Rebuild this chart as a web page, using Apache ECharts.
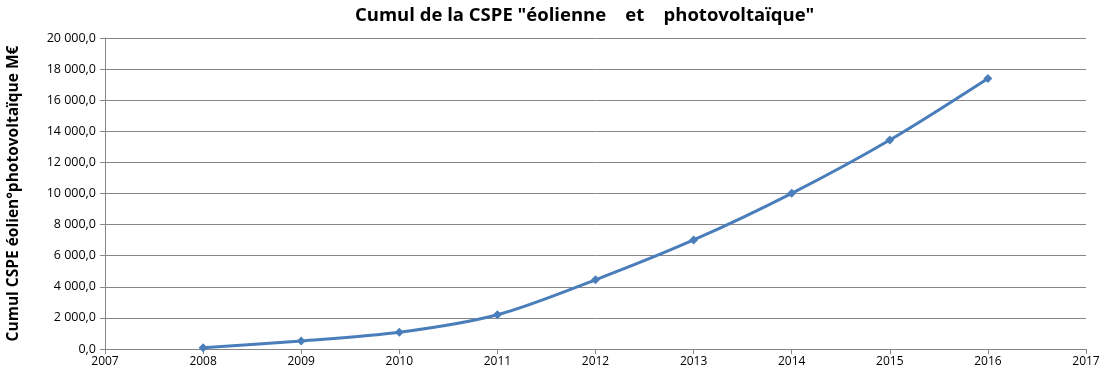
<!DOCTYPE html>
<html>
<head>
<meta charset="utf-8">
<script src="https://cdn.jsdelivr.net/npm/echarts@6/dist/echarts.min.js"></script>
<style>
	html, body { margin: 0; padding: 0; background: #fff; }
	#chart { width: 1106px; height: 378px; }
</style>
</head>
<body>
<div id="chart"></div>
<script>
// valeurs (M€)
var years = [2008, 2009, 2010, 2011, 2012, 2013, 2014, 2015, 2016];
var cumulCSPE = [80, 510, 1070, 2200, 4450, 7010, 10010, 13440, 17400];

var titleText = 'Cumul de la CSPE "éolienne    et    photovoltaïque"';
var yAxisName = 'Cumul CSPE éolien°photovoltaïque M€';

function formatFr(v)
{
	var parts = v.toFixed(1).split('.');
	var intPart = parts[0].replace(/\B(?=(\d{3})+(?!\d))/g, ' ');
	return intPart + ',' + parts[1];
}

var chart = echarts.init(document.getElementById("chart"));

var points = [];
for (var i = 0; i < years.length; i++) {
	points.push([years[i], cumulCSPE[i]]);
}

var option = {
	animation: false,
	textStyle: { fontFamily: 'Open Sans' },
	title: {
		text: titleText,
		left: 350,
		top: 1,
		textStyle: {
			fontFamily: 'Open Sans',
			fontSize: 18.5,
			fontWeight: 'bold',
			color: '#000'
		}
	},
	grid: {
		left: 105,
		right: 20,
		top: 38,
		bottom: 29,
		containLabel: false,
		outerBoundsMode: 'none'
	},
	xAxis: {
		type: 'value',
		min: 2007,
		max: 2017,
		interval: 1,
		axisLine: { show: true, lineStyle: { color: '#868686', width: 1 } },
		axisTick: { show: true, length: 5, lineStyle: { color: '#868686' } },
		axisLabel: {
			color: '#000',
			fontSize: 12,
			margin: 7,
			formatter: function (v) { return String(v); }
		},
		splitLine: { show: false }
	},
	yAxis: {
		type: 'value',
		min: 0,
		max: 20000,
		interval: 2000,
		name: yAxisName,
		nameLocation: 'middle',
		nameGap: 83,
		nameTextStyle: {
			fontFamily: 'Open Sans',
			fontSize: 15.5,
			fontWeight: 'bold',
			color: '#000'
		},
		axisLine: { show: true, lineStyle: { color: '#868686', width: 1 } },
		axisTick: { show: true, length: 5, lineStyle: { color: '#868686' } },
		axisLabel: {
			color: '#000',
			fontSize: 12.5,
			margin: 9,
			formatter: formatFr
		},
		splitLine: { show: true, lineStyle: { color: '#868686', width: 1 } }
	},
	series: [
		{
			name: 'Cumul CSPE',
			type: 'line',
			smooth: 0.3,
			data: points,
			symbol: 'diamond',
			symbolSize: 9,
			lineStyle: { color: '#4a7ebb', width: 3 },
			itemStyle: { color: '#4a7ebb' }
		}
	]
};

chart.setOption(option);
</script>
</body>
</html>
